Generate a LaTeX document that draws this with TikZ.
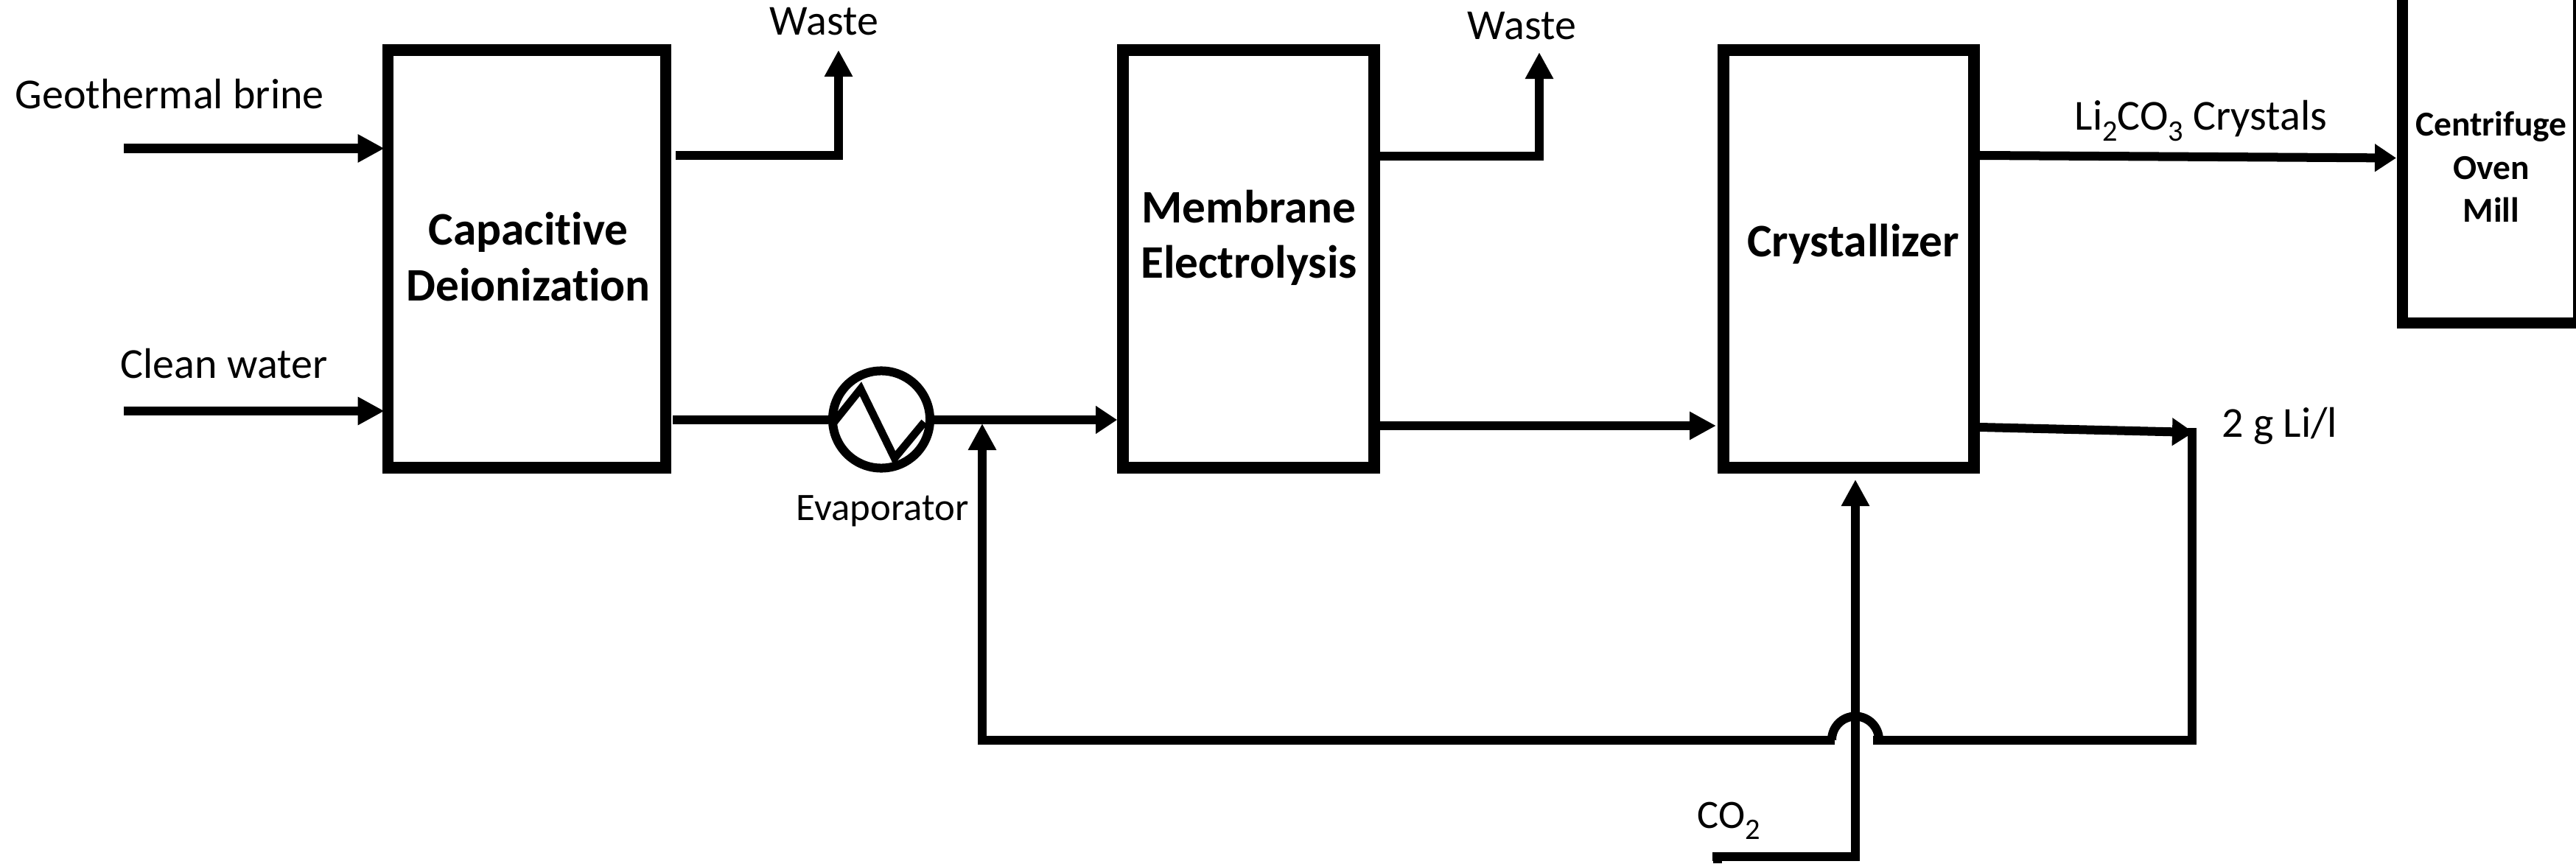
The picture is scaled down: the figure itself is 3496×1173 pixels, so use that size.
\documentclass[tikz,border=0pt]{standalone}
\usepackage{fontspec}
\setmainfont{Carlito}[Ligatures=NoCommon]
\usetikzlibrary{arrows.meta}
\newcommand{\lowsub}[1]{\raisebox{-4.3pt}{\fontsize{11.5}{12}\selectfont #1}}
\tikzset{
  x=0.01cm,y=-0.01cm,
  flow/.style={line width=0.12cm,-{Triangle[length=0.36cm,width=0.36cm]}},
  shortflow/.style={line width=0.12cm,-{Triangle[length=0.29cm,width=0.36cm]}},
  pipe/.style={line width=0.12cm},
  unit/.style={draw,line width=0.155cm,rectangle,minimum width=3.77cm,minimum height=5.67cm,inner sep=0pt},
  unittext/.style={inner sep=0pt,anchor=base,font=\fontsize{18}{22}\selectfont\bfseries},
  smalltext/.style={inner sep=0pt,anchor=base,font=\fontsize{13.5}{15}\selectfont\bfseries},
  lbl/.style={inner sep=0pt,anchor=base west,font=\fontsize{16.5}{18}\selectfont},
}
\begin{document}
\begin{tikzpicture}
\useasboundingbox (0,0) rectangle (3496,1173);
\clip (0,0) rectangle (3496,1173);
\node[unit] (cd) at (715,351.5) {};
\node[unit,minimum width=3.41cm] (me) at (1694.5,351.5) {};
\node[unit,minimum width=3.40cm] (cr) at (2509,351.5) {};
\node[unit,minimum width=2.395cm,minimum height=10cm,line width=0.15cm] (ft) at (3380,-61.5) {};
\node[unittext] (cdt1) at (717,332) {Capacitive};
\node[unittext] (cdt2) at (717,409) {Deionization};
\node[unittext] (met1) at (1695,302) {Membrane};
\node[unittext] (met2) at (1695,377) {Electrolysis};
\node[unittext] (crt) at (2515,349) {Crystallizer};
\node[smalltext] (ft1) at (3381,185) {Centrifuge};
\node[smalltext] (ft2) at (3381,244) {Oven};
\node[smalltext] (ft3) at (3381,301) {Mill};
\node[lbl] (l1) at (20,148) {Geothermal brine};
\node[lbl] (l2) at (163,513) {Clean water};
\node[lbl] (l3) at (1044,48) {Waste};
\node[lbl] (l4) at (1991,54) {Waste};
\node[lbl,font=\fontsize{15}{18}\selectfont] (l5) at (1080,706) {Evaporator};
\node[lbl] (l6) at (2815,176) {Li\lowsub{2}CO\lowsub{3} Crystals};
\node[lbl] (l7) at (3015,593) {2 g Li/l};
\node[lbl,font=\fontsize{15.5}{18}\selectfont] (l8) at (2303,1124) {CO\lowsub{2}};
\node[draw,circle,line width=0.12cm,minimum size=1.32cm,inner sep=0pt] (ev) at (1196,569.5) {};
\coordinate (a1) at (168,201.5);
\coordinate (a2) at (168,558);
\coordinate (b1) at (917,211);
\coordinate (b2) at (1138,211);
\coordinate (b3) at (1138,68);
\coordinate (c1) at (913,570);
\coordinate (m1) at (1873,212);
\coordinate (m2) at (2089,212);
\coordinate (m3) at (2089,71);
\coordinate (m4) at (1873,578);
\coordinate (m5) at (2329,578);
\coordinate (d1) at (2687,211);
\coordinate (d2) at (3252,214.5);
\coordinate (e1) at (2687,580);
\coordinate (e2) at (2977,587);
\coordinate (f1) at (2975,581);
\coordinate (f2) at (2975,1004.5);
\coordinate (f3) at (2542,1004.5);
\coordinate (j1) at (2550,1004.5);
\coordinate (g1) at (2490,1004.5);
\coordinate (g2) at (1333,1004.5);
\coordinate (g3) at (1333,575);
\coordinate (h1) at (2324,1163);
\coordinate (h2) at (2518,1163);
\coordinate (h3) at (2518,651);
\coordinate (h4) at (2330.5,1172);
\coordinate (h5) at (2330.5,1157);
\draw[flow,shorten >=-0.03cm] (a1) -- (cd.west |- a1);
\draw[flow,shorten >=-0.03cm] (a2) -- (cd.west |- a2);
\draw[flow] (b1) -- (b2) -- (b3);
\draw[pipe] (c1) -- (ev.west |- c1);
\draw[shortflow] (ev.east |- c1) -- (me.west |- c1);
\draw[pipe,line width=0.105cm] (1132,573) -- (1168,528) -- (1214,622) -- (1254.5,573);
\draw[flow] (m1) -- (m2) -- (m3);
\draw[flow] (m4) -- (m5);
\draw[shortflow] (d1) -- (d2);
\draw[shortflow] (e1) -- (e2);
\draw[pipe] (f1) -- (f2) -- (f3);
\draw[pipe] (j1) arc[start angle=0,end angle=-180,radius=32];
\draw[flow] (g1) -- (g2) -- (g3);
\draw[flow] (h1) -- (h2) -- (h3);
\draw[pipe] (h4) -- (h5);
\end{tikzpicture}
\end{document}
